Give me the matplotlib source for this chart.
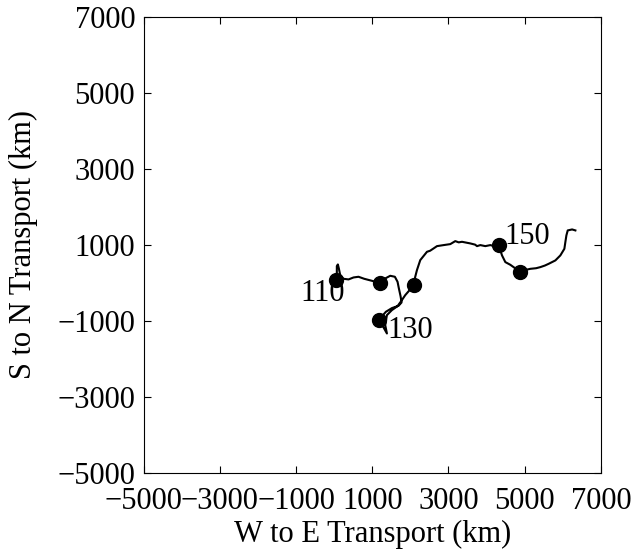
import matplotlib
matplotlib.use("Agg")
import matplotlib.pyplot as plt

# Cumulative transport path (km)
path_x = [46, 72, 72, 99, 125, 160, 248, 379, 510, 641, 790, 992, 1193,
          1342, 1473, 1595, 1665, 1700, 1744, 1771, 1692, 1517, 1359, 1245,
          1167, 1298, 1386, 1342, 1386, 1517, 1665, 1779, 1867, 1981, 2086,
          2129, 2174, 2261, 2437, 2520, 2610, 2700, 2873, 3049, 3180, 3270,
          3356, 3574, 3700, 3750, 3837, 3968, 4099, 4200, 4317,
          4406, 4493, 4624, 4750, 4887,
          5000, 5149, 5300, 5412, 5530, 5630, 5806, 5937, 6042, 6070, 6095,
          6130, 6245, 6331]
path_y = [67, 242, 435, 479, 374, 198, 102, 85, 137, 155, 102, 49, -3,
          111, 181, 155, 23, -152, -354, -520, -608, -669, -766, -897,
          -985, -1178, -1336, -1117, -854, -722, -617, -459, -328, -196, -65,
          155, 330, 593, 812, 840, 900, 961, 988, 1014, 1093, 1060,
          1075, 1032, 1000, 961, 988, 961, 988, 960, 988,
          717, 541, 470, 380, 277,
          330, 364, 380, 409, 450, 496, 585, 717, 891, 1080, 1243,
          1374, 1400, 1374]

# Positions at every 10 time steps
mark_x = [46, 1193, 1167, 2086, 4317, 4887]
mark_y = [67, -3, -985, -65, 988, 277]

# Labelled time steps
label_text = ["110", "130", "150"]
label_x = [-307, 1987, 5070]
label_y = [-292, -1257, 1207]

ticks = [-5000, -3000, -1000, 1000, 3000, 5000, 7000]

plt.rcParams["font.family"] = ["Liberation Serif", "DejaVu Serif"]
plt.rcParams["font.size"] = 22

fig = plt.figure(figsize=(6.37, 5.51), dpi=100)
ax = fig.add_axes([0.2253, 0.142, 0.718, 0.828])

ax.plot(path_x, path_y, color="black", lw=1.5)
ax.plot(mark_x, mark_y, "o", color="black", ms=10)
for t, x, y in zip(label_text, label_x, label_y):
    ax.text(x, y, t, ha="center", va="center", fontsize=22)

ax.set_xlim(-5000, 7000)
ax.set_ylim(-5000, 7000)
ax.set_xticks(ticks)
ax.set_yticks(ticks)
ax.tick_params(direction="in", length=5, width=0.8, top=True, right=True,
               labelsize=22)
ax.tick_params(axis="x", pad=10)
ax.tick_params(axis="y", pad=6)
for s in ax.spines.values():
    s.set_linewidth(0.8)

ax.set_xlabel("W to E Transport (km)", fontsize=22, labelpad=3)
ax.set_ylabel("S to N Transport (km)", fontsize=22, labelpad=14)

fig.savefig("out.png", dpi=100)
